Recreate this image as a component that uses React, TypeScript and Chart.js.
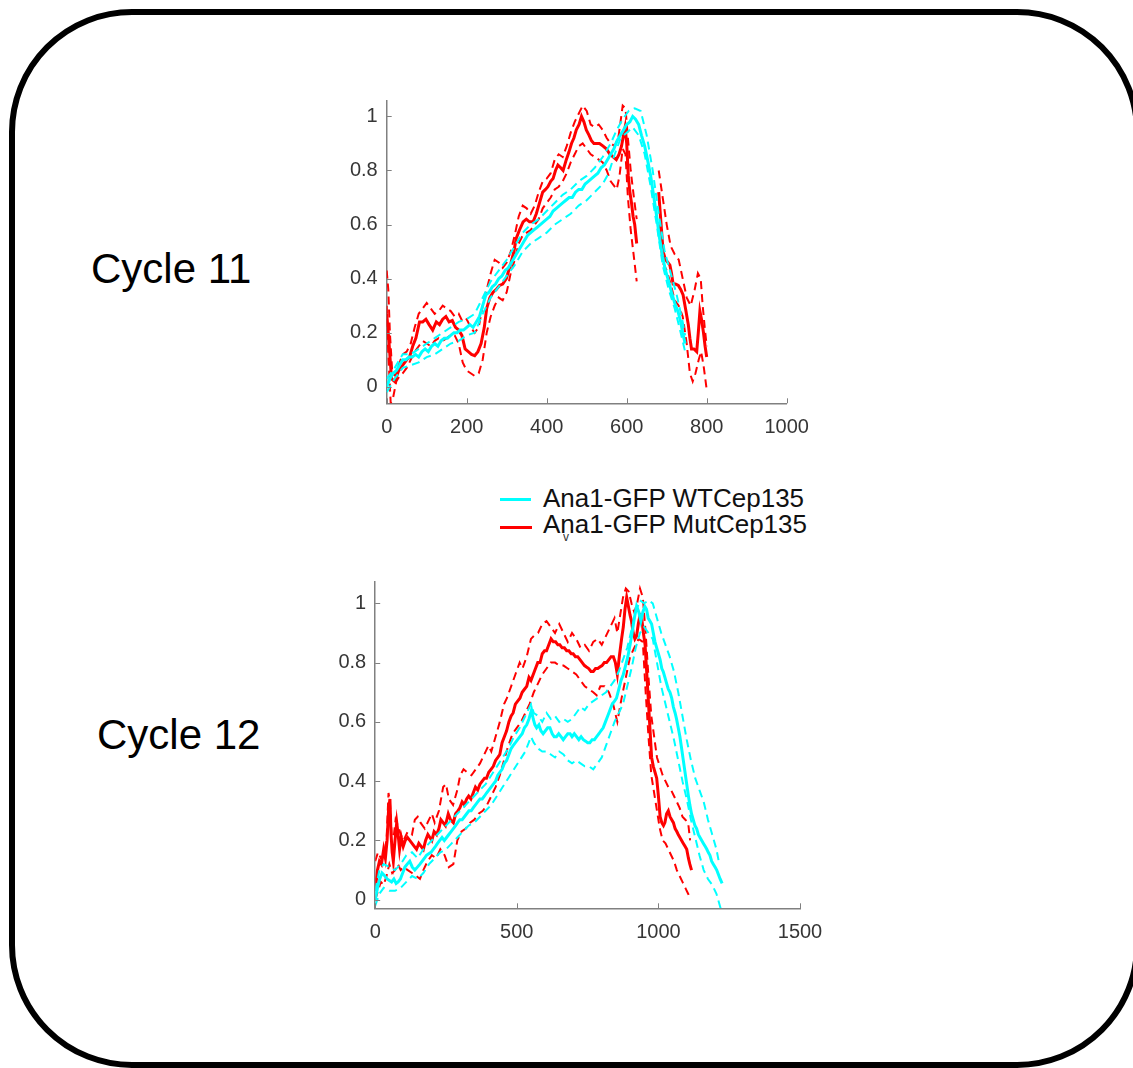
import React, { useEffect, useRef } from "react";
import { Chart, registerables } from "chart.js";

Chart.register(...registerables);

type Pt = [number, number | null];

// ---------- Cycle 11 ----------
const c11XTicks = [0, 200, 400, 600, 800, 1000];
const c11YTicks = [0, 0.2, 0.4, 0.6, 0.8, 1];
const c11XRange = [0, 1000];
const c11YRange = [-0.061, 1.057];

const c11WtMean: Pt[] = [
  [0, 0.0], [8, 0.03], [16, 0.05], [24, 0.06], [32, 0.08], [40, 0.1], [48, 0.1], [56, 0.11], [64, 0.11], [72, 0.12],
  [80, 0.11], [88, 0.13], [96, 0.14], [104, 0.13], [112, 0.15], [120, 0.16], [128, 0.15], [136, 0.17], [144, 0.18],
  [152, 0.18], [160, 0.19], [168, 0.2], [176, 0.2], [184, 0.21], [192, 0.21], [200, 0.22], [208, 0.23], [216, 0.22],
  [224, 0.24], [232, 0.26], [240, 0.3], [248, 0.34], [256, 0.35], [264, 0.37], [272, 0.38], [280, 0.4], [288, 0.41],
  [296, 0.43], [304, 0.44], [312, 0.46], [320, 0.48], [328, 0.5], [336, 0.52], [344, 0.54], [352, 0.56], [360, 0.57],
  [368, 0.58], [376, 0.59], [384, 0.6], [392, 0.61], [400, 0.62], [408, 0.63], [416, 0.65], [424, 0.66], [432, 0.67],
  [440, 0.68], [448, 0.69], [456, 0.7], [464, 0.7], [472, 0.72], [480, 0.73], [488, 0.73], [496, 0.75], [504, 0.76],
  [512, 0.77], [520, 0.78], [528, 0.79], [536, 0.81], [544, 0.82], [552, 0.84], [560, 0.86], [568, 0.88], [576, 0.91],
  [584, 0.93], [592, 0.95], [600, 0.97], [608, 0.98], [615, 1.0], [622, 0.99], [630, 0.97], [637, 0.93], [645, 0.89],
  [652, 0.84], [660, 0.78], [668, 0.7], [675, 0.63], [682, 0.55], [690, 0.48], [697, 0.43], [705, 0.39], [712, 0.35],
  [720, 0.31], [728, 0.28], [735, 0.24], [740, 0.2], [746, 0.16],
];
const c11WtUpper: Pt[] = [
  [0, 0.03], [20, 0.07], [40, 0.12], [60, 0.12], [80, 0.14], [100, 0.16], [120, 0.18], [140, 0.2], [160, 0.22],
  [180, 0.24], [200, 0.25], [220, 0.27], [240, 0.33], [260, 0.39], [280, 0.43], [300, 0.47], [320, 0.52], [340, 0.57],
  [360, 0.6], [380, 0.62], [400, 0.65], [420, 0.68], [440, 0.71], [460, 0.73], [480, 0.76], [500, 0.78], [520, 0.81],
  [540, 0.85], [560, 0.9], [575, 0.95], [590, 0.99], [605, 1.02], [620, 1.03], [635, 1.02], [650, 0.93], [665, 0.8],
  [680, 0.64], [695, 0.5], [710, 0.42], [725, 0.34], [740, 0.24], [746, 0.19],
];
const c11WtLower: Pt[] = [
  [0, -0.02], [20, 0.03], [40, 0.07], [60, 0.08], [80, 0.09], [100, 0.11], [120, 0.12], [140, 0.14], [160, 0.16],
  [180, 0.17], [200, 0.19], [220, 0.2], [240, 0.27], [260, 0.33], [280, 0.37], [300, 0.41], [320, 0.45], [340, 0.5],
  [360, 0.53], [380, 0.55], [400, 0.57], [420, 0.6], [440, 0.62], [460, 0.64], [480, 0.67], [500, 0.69], [520, 0.72],
  [540, 0.75], [555, 0.79], [570, 0.86], [585, 0.92], [600, 0.94], [615, 0.96], [630, 0.93], [645, 0.86], [660, 0.74],
  [675, 0.6], [690, 0.45], [705, 0.36], [720, 0.29], [735, 0.2], [746, 0.13],
];
const c11MutMean: Pt[] = [
  [0, 0.27], [5, 0.18], [12, 0.03], [20, 0.02], [30, 0.06], [40, 0.08], [50, 0.1], [57, 0.11], [65, 0.15], [73, 0.18],
  [82, 0.24], [90, 0.24], [98, 0.25], [106, 0.23], [115, 0.21], [124, 0.24], [132, 0.23], [140, 0.25], [148, 0.26],
  [156, 0.24], [164, 0.245], [172, 0.22], [180, 0.21], [188, 0.19], [196, 0.14], [204, 0.13], [212, 0.12], [220, 0.115],
  [228, 0.13], [236, 0.16], [244, 0.22], [250, 0.29], [258, 0.33], [266, 0.35], [274, 0.36], [282, 0.375], [290, 0.38],
  [299, 0.4], [305, 0.43], [311, 0.46], [318, 0.5], [324, 0.55], [332, 0.58], [341, 0.61], [349, 0.62], [357, 0.61],
  [366, 0.61], [374, 0.64], [382, 0.68], [390, 0.72], [397, 0.73], [403, 0.74], [410, 0.76], [416, 0.77], [422, 0.8],
  [428, 0.82], [435, 0.81], [441, 0.8], [449, 0.84], [456, 0.87], [462, 0.9], [468, 0.92], [474, 0.95], [481, 0.97],
  [487, 1.0], [493, 0.98], [499, 0.95], [506, 0.93], [512, 0.91], [518, 0.9], [524, 0.9], [532, 0.9], [541, 0.89],
  [549, 0.88], [558, 0.86], [566, 0.85], [574, 0.84], [581, 0.86], [587, 0.89], [592, 0.93], [596, 0.96], [600, 0.9],
  [604, 0.78], [608, 0.72], [612, 0.68], [616, 0.63], [620, 0.6], [625, 0.53], [650, null],
  [680, 0.72], [686, 0.6], [691, 0.5], [697, 0.47], [703, 0.46], [708, 0.45], [712, 0.42], [716, 0.38], [722, 0.38],
  [729, 0.375], [735, 0.36], [741, 0.34], [747, 0.29], [754, 0.23], [758, 0.18], [762, 0.14], [768, 0.14], [775, 0.13],
  [779, 0.2], [783, 0.28], [787, 0.25], [792, 0.2], [796, 0.15], [800, 0.11],
];
const c11MutUpper: Pt[] = [
  [0, 0.43], [4, 0.36], [8, 0.2], [14, 0.05], [22, 0.04], [30, 0.08], [40, 0.12], [50, 0.13], [60, 0.16], [70, 0.22],
  [80, 0.27], [90, 0.29], [100, 0.31], [110, 0.29], [120, 0.27], [130, 0.28], [140, 0.3], [150, 0.29], [160, 0.28],
  [170, 0.26], [180, 0.27], [190, 0.24], [200, 0.25], [210, 0.22], [220, 0.2], [230, 0.22], [240, 0.3], [250, 0.36],
  [260, 0.42], [270, 0.47], [280, 0.46], [290, 0.44], [300, 0.46], [310, 0.5], [320, 0.56], [330, 0.63], [340, 0.67],
  [350, 0.66], [360, 0.64], [370, 0.67], [380, 0.72], [390, 0.76], [400, 0.77], [410, 0.79], [420, 0.84], [430, 0.86],
  [440, 0.85], [450, 0.89], [460, 0.94], [470, 0.98], [480, 1.01], [490, 1.04], [500, 1.02], [510, 0.97], [520, 0.96],
  [530, 0.97], [540, 0.95], [550, 0.92], [560, 0.9], [570, 0.89], [580, 0.93], [590, 1.04], [597, 1.03], [603, 0.92],
  [610, 0.8], [618, 0.7], [625, 0.62], [650, null],
  [680, 0.8], [690, 0.7], [700, 0.6], [710, 0.52], [720, 0.49], [730, 0.47], [740, 0.4], [750, 0.33], [760, 0.3],
  [770, 0.36], [778, 0.42], [785, 0.4], [790, 0.3], [795, 0.22], [800, 0.15],
];
const c11MutLower: Pt[] = [
  [0, 0.3], [4, 0.12], [10, -0.06], [16, -0.04], [24, 0.02], [32, 0.04], [40, 0.05], [50, 0.07], [60, 0.1], [70, 0.13],
  [80, 0.15], [90, 0.17], [100, 0.16], [110, 0.15], [120, 0.17], [130, 0.18], [140, 0.17], [150, 0.18], [160, 0.19],
  [170, 0.19], [180, 0.16], [190, 0.09], [200, 0.06], [210, 0.05], [220, 0.04], [230, 0.05], [240, 0.1], [250, 0.2],
  [260, 0.26], [270, 0.3], [280, 0.33], [290, 0.32], [300, 0.35], [310, 0.42], [320, 0.47], [330, 0.53], [340, 0.56],
  [350, 0.57], [360, 0.58], [370, 0.6], [380, 0.62], [390, 0.66], [400, 0.68], [410, 0.7], [420, 0.73], [430, 0.74],
  [440, 0.76], [450, 0.79], [460, 0.83], [470, 0.86], [480, 0.89], [490, 0.9], [500, 0.88], [510, 0.86], [520, 0.85],
  [530, 0.84], [540, 0.83], [550, 0.8], [560, 0.76], [570, 0.74], [575, 0.73], [582, 0.78], [590, 0.88], [597, 0.86],
  [603, 0.7], [610, 0.58], [618, 0.48], [625, 0.39], [650, null],
  [680, 0.6], [690, 0.46], [700, 0.43], [710, 0.38], [720, 0.32], [730, 0.3], [740, 0.26], [750, 0.16], [758, 0.05],
  [765, 0.02], [772, 0.05], [780, 0.1], [786, 0.13], [792, 0.08], [800, -0.01],
];

// ---------- Cycle 12 ----------
const c12XTicks = [0, 500, 1000, 1500];
const c12YTicks = [0, 0.2, 0.4, 0.6, 0.8, 1];
const c12XRange = [0, 1500];
const c12YRange = [-0.029, 1.073];

const c12WtMean: Pt[] = [
  [0, 0.0], [8, 0.04], [16, 0.07], [24, 0.09], [34, 0.08], [42, 0.07], [50, 0.065], [58, 0.06], [66, 0.07], [74, 0.055],
  [81, 0.06], [89, 0.07], [97, 0.09], [105, 0.11], [113, 0.12], [122, 0.13], [131, 0.11], [140, 0.1], [149, 0.11],
  [158, 0.12], [166, 0.13], [174, 0.14], [181, 0.15], [189, 0.155], [197, 0.16], [205, 0.17], [213, 0.18], [220, 0.19],
  [228, 0.2], [236, 0.21], [244, 0.2], [252, 0.21], [260, 0.22], [268, 0.23], [276, 0.24], [284, 0.25], [291, 0.26],
  [299, 0.27], [307, 0.27], [315, 0.28], [323, 0.29], [331, 0.3], [339, 0.3], [346, 0.31], [354, 0.32], [362, 0.33],
  [370, 0.34], [378, 0.34], [386, 0.35], [393, 0.36], [401, 0.37], [409, 0.38], [417, 0.39], [425, 0.4], [433, 0.42],
  [440, 0.43], [448, 0.44], [456, 0.46], [464, 0.47], [472, 0.49], [480, 0.51], [487, 0.52], [495, 0.53], [503, 0.54],
  [511, 0.55], [519, 0.56], [527, 0.58], [535, 0.59], [543, 0.61], [552, 0.64], [558, 0.61], [564, 0.59], [570, 0.58],
  [578, 0.59], [585, 0.57], [593, 0.56], [601, 0.57], [609, 0.58], [617, 0.58], [625, 0.56], [632, 0.55], [640, 0.55],
  [648, 0.56], [656, 0.55], [664, 0.54], [672, 0.55], [680, 0.56], [688, 0.56], [695, 0.55], [703, 0.56], [711, 0.55],
  [719, 0.54], [727, 0.55], [735, 0.54], [743, 0.535], [750, 0.53], [758, 0.53], [766, 0.54], [774, 0.54], [782, 0.55],
  [790, 0.56], [797, 0.57], [805, 0.58], [813, 0.6], [821, 0.62], [829, 0.64], [837, 0.66], [845, 0.67], [852, 0.68],
  [860, 0.71], [868, 0.74], [876, 0.76], [884, 0.79], [892, 0.82], [900, 0.86], [907, 0.9], [915, 0.95], [923, 0.99],
  [931, 0.97], [938, 0.94], [945, 0.97], [952, 0.99], [958, 0.98], [964, 0.95], [970, 0.94], [976, 0.93], [982, 0.9],
  [988, 0.87], [994, 0.85], [1000, 0.83], [1006, 0.81], [1012, 0.78], [1017, 0.77], [1023, 0.75], [1029, 0.73],
  [1035, 0.71], [1041, 0.7], [1047, 0.68], [1053, 0.65], [1059, 0.63], [1064, 0.61], [1070, 0.58], [1076, 0.55],
  [1082, 0.51], [1088, 0.47], [1094, 0.43], [1100, 0.39], [1106, 0.35], [1111, 0.32], [1117, 0.29], [1123, 0.27],
  [1129, 0.25], [1135, 0.24], [1141, 0.22], [1147, 0.21], [1153, 0.2], [1159, 0.19], [1165, 0.18], [1171, 0.17],
  [1176, 0.16], [1182, 0.15], [1188, 0.13], [1194, 0.12], [1200, 0.11], [1206, 0.1], [1212, 0.085], [1218, 0.07],
  [1225, 0.055],
];
const c12WtUpper: Pt[] = [
  [0, 0.03], [15, 0.1], [30, 0.12], [50, 0.11], [70, 0.1], [90, 0.12], [110, 0.15], [130, 0.16], [150, 0.14], [170, 0.17],
  [190, 0.19], [210, 0.21], [230, 0.23], [250, 0.25], [270, 0.27], [290, 0.29], [310, 0.31], [330, 0.33], [350, 0.35],
  [370, 0.37], [390, 0.39], [410, 0.42], [430, 0.45], [450, 0.48], [470, 0.51], [490, 0.55], [510, 0.58], [530, 0.62],
  [550, 0.66], [560, 0.63], [575, 0.62], [590, 0.6], [605, 0.63], [620, 0.61], [635, 0.62], [650, 0.6], [665, 0.61],
  [680, 0.6], [695, 0.61], [710, 0.63], [725, 0.65], [740, 0.64], [755, 0.66], [770, 0.67], [785, 0.68], [800, 0.69],
  [815, 0.7], [830, 0.72], [845, 0.74], [860, 0.77], [875, 0.81], [890, 0.85], [905, 0.91], [920, 0.97], [935, 1.01],
  [950, 1.0], [965, 1.01], [980, 1.0], [995, 0.95], [1010, 0.9], [1025, 0.86], [1040, 0.82], [1055, 0.77], [1070, 0.7],
  [1085, 0.62], [1100, 0.54], [1115, 0.47], [1130, 0.41], [1145, 0.37], [1160, 0.33], [1175, 0.27], [1190, 0.22],
  [1205, 0.17], [1215, 0.12],
];
const c12WtLower: Pt[] = [
  [0, -0.02], [15, 0.02], [30, 0.04], [50, 0.03], [70, 0.03], [90, 0.04], [110, 0.06], [130, 0.08], [150, 0.07],
  [170, 0.09], [190, 0.12], [210, 0.14], [230, 0.16], [250, 0.17], [270, 0.19], [290, 0.21], [310, 0.23], [330, 0.25],
  [350, 0.26], [370, 0.28], [390, 0.3], [410, 0.32], [430, 0.35], [450, 0.38], [470, 0.41], [490, 0.44], [510, 0.47],
  [530, 0.5], [550, 0.55], [560, 0.53], [575, 0.51], [590, 0.5], [605, 0.5], [620, 0.49], [635, 0.48], [650, 0.5],
  [665, 0.49], [680, 0.47], [695, 0.46], [710, 0.47], [725, 0.46], [740, 0.45], [755, 0.45], [770, 0.44], [785, 0.46],
  [800, 0.48], [815, 0.52], [830, 0.56], [845, 0.6], [860, 0.63], [875, 0.66], [890, 0.72], [905, 0.78], [920, 0.85],
  [935, 0.9], [950, 0.92], [965, 0.9], [980, 0.88], [995, 0.8], [1010, 0.72], [1025, 0.66], [1040, 0.6], [1055, 0.54],
  [1070, 0.47], [1085, 0.4], [1100, 0.34], [1115, 0.27], [1130, 0.21], [1145, 0.15], [1160, 0.1], [1175, 0.07],
  [1190, 0.05], [1205, 0.02], [1220, -0.03],
];
const c12MutMean: Pt[] = [
  [0, 0.03], [8, 0.1], [15, 0.13], [22, 0.12], [30, 0.17], [36, 0.14], [42, 0.2], [47, 0.3], [52, 0.34], [56, 0.22],
  [60, 0.16], [64, 0.13], [70, 0.2], [76, 0.26], [81, 0.22], [86, 0.17], [92, 0.21], [99, 0.18], [106, 0.2], [114, 0.21],
  [122, 0.2], [130, 0.19], [138, 0.18], [146, 0.17], [154, 0.19], [162, 0.18], [170, 0.17], [178, 0.2], [186, 0.22],
  [193, 0.21], [200, 0.2], [208, 0.23], [217, 0.22], [225, 0.24], [232, 0.27], [240, 0.26], [248, 0.25], [258, 0.29],
  [266, 0.27], [276, 0.26], [284, 0.29], [292, 0.3], [299, 0.31], [307, 0.33], [315, 0.32], [323, 0.34], [330, 0.35],
  [338, 0.34], [346, 0.36], [354, 0.38], [362, 0.37], [370, 0.39], [378, 0.4], [386, 0.41], [393, 0.41], [401, 0.43],
  [409, 0.44], [417, 0.45], [425, 0.47], [433, 0.48], [440, 0.49], [448, 0.53], [456, 0.55], [464, 0.57], [472, 0.6],
  [480, 0.62], [487, 0.63], [495, 0.66], [503, 0.67], [511, 0.68], [519, 0.7], [527, 0.71], [535, 0.72], [543, 0.75],
  [550, 0.74], [558, 0.76], [566, 0.78], [574, 0.8], [582, 0.8], [590, 0.83], [598, 0.84], [605, 0.84], [613, 0.86],
  [621, 0.88], [629, 0.87], [637, 0.87], [645, 0.86], [652, 0.86], [660, 0.85], [668, 0.85], [676, 0.84], [684, 0.84],
  [692, 0.83], [699, 0.83], [707, 0.82], [715, 0.82], [723, 0.81], [731, 0.8], [739, 0.79], [746, 0.785], [754, 0.78],
  [762, 0.77], [770, 0.77], [778, 0.78], [786, 0.78], [793, 0.785], [801, 0.79], [809, 0.8], [817, 0.8], [825, 0.81],
  [833, 0.82], [841, 0.82], [848, 0.8], [855, 0.76], [862, 0.82], [870, 0.88], [876, 0.92], [882, 0.98], [888, 1.02],
  [894, 0.99], [900, 0.96], [905, 0.94], [911, 0.9], [917, 0.88], [923, 0.89], [929, 0.93], [935, 0.96], [941, 0.95],
  [947, 0.9], [953, 0.86], [958, 0.78], [964, 0.68], [970, 0.58], [976, 0.48], [982, 0.45], [988, 0.43], [994, 0.41],
  [1000, 0.35], [1006, 0.28], [1012, 0.26], [1018, 0.25], [1023, 0.26], [1029, 0.29], [1035, 0.3], [1041, 0.28],
  [1047, 0.27], [1053, 0.26], [1059, 0.24], [1065, 0.23], [1070, 0.22], [1076, 0.21], [1082, 0.2], [1088, 0.19],
  [1094, 0.18], [1100, 0.17], [1106, 0.14], [1111, 0.12], [1117, 0.1],
];
const c12MutUpper: Pt[] = [
  [0, 0.13], [10, 0.16], [20, 0.14], [30, 0.15], [40, 0.2], [47, 0.36], [52, 0.33], [58, 0.22], [65, 0.21], [72, 0.27],
  [80, 0.25], [90, 0.22], [100, 0.2], [115, 0.23], [130, 0.22], [140, 0.27], [150, 0.28], [160, 0.26], [175, 0.24],
  [190, 0.27], [200, 0.29], [210, 0.26], [225, 0.3], [240, 0.38], [250, 0.39], [260, 0.34], [275, 0.32], [290, 0.37],
  [300, 0.42], [312, 0.44], [325, 0.43], [340, 0.42], [355, 0.44], [370, 0.46], [385, 0.49], [400, 0.52], [410, 0.5],
  [425, 0.55], [440, 0.6], [455, 0.66], [465, 0.68], [480, 0.72], [495, 0.76], [510, 0.8], [520, 0.78], [535, 0.82],
  [550, 0.88], [560, 0.89], [575, 0.9], [590, 0.93], [605, 0.94], [620, 0.92], [635, 0.9], [650, 0.93], [665, 0.9],
  [680, 0.87], [695, 0.9], [710, 0.88], [725, 0.85], [740, 0.86], [755, 0.84], [770, 0.87], [785, 0.88], [800, 0.86],
  [815, 0.89], [830, 0.92], [845, 0.95], [855, 0.9], [865, 0.96], [875, 1.02], [885, 1.05], [895, 1.04], [905, 1.0],
  [915, 0.97], [925, 1.0], [935, 1.05], [945, 1.02], [955, 0.9], [965, 0.75], [975, 0.62], [985, 0.55], [995, 0.48],
  [1005, 0.45], [1015, 0.42], [1025, 0.4], [1035, 0.38], [1045, 0.37], [1055, 0.35], [1065, 0.33], [1075, 0.31],
  [1085, 0.28], [1095, 0.27], [1105, 0.26], [1112, 0.2],
];
const c12MutLower: Pt[] = [
  [0, 0.0], [10, 0.03], [20, 0.06], [30, 0.05], [40, 0.08], [50, 0.12], [60, 0.09], [70, 0.1], [80, 0.12], [90, 0.1],
  [100, 0.11], [115, 0.1], [130, 0.09], [145, 0.08], [158, 0.07], [170, 0.1], [185, 0.13], [200, 0.15], [215, 0.14],
  [230, 0.17], [245, 0.15], [260, 0.11], [276, 0.12], [290, 0.2], [305, 0.23], [320, 0.24], [335, 0.26], [350, 0.27],
  [365, 0.29], [380, 0.3], [395, 0.32], [410, 0.35], [425, 0.38], [440, 0.42], [455, 0.47], [470, 0.52], [485, 0.56],
  [500, 0.58], [515, 0.6], [530, 0.63], [545, 0.66], [560, 0.7], [575, 0.73], [590, 0.76], [605, 0.78], [620, 0.8],
  [635, 0.8], [650, 0.79], [665, 0.79], [680, 0.78], [695, 0.77], [710, 0.76], [725, 0.74], [740, 0.72], [755, 0.71],
  [770, 0.7], [782, 0.69], [795, 0.72], [810, 0.72], [825, 0.7], [840, 0.66], [855, 0.6], [870, 0.68], [885, 0.75],
  [900, 0.82], [915, 0.85], [930, 0.88], [945, 0.87], [955, 0.7], [965, 0.55], [975, 0.42], [985, 0.36], [995, 0.3],
  [1005, 0.24], [1015, 0.2], [1025, 0.19], [1035, 0.17], [1045, 0.15], [1055, 0.13], [1065, 0.1], [1075, 0.08],
  [1085, 0.06], [1095, 0.04], [1105, 0.02], [1110, 0.01],
];

const legendLabels = ["Ana1-GFP WTCep135", "Ana1-GFP MutCep135"];
const panelLabels = ["Cycle 11", "Cycle 12"];

const WT = "#00ffff";
const MUT = "#ff0000";
const AXIS = "#808080";
const TICKTXT = "#363636";
const FONT = "'Liberation Sans', Arial, Helvetica, sans-serif";

const inwardTicks = {
  id: "inwardTicks",
  afterDatasetsDraw(chart: any) {
    const { ctx, chartArea, scales } = chart;
    ctx.save();
    ctx.strokeStyle = AXIS;
    ctx.lineWidth = 1;
    const xs = scales.x;
    const ys = scales.y;
    xs.ticks.forEach((t: any) => {
      const px = Math.round(xs.getPixelForValue(t.value)) + 0.5;
      ctx.beginPath();
      ctx.moveTo(px, chartArea.bottom);
      ctx.lineTo(px, chartArea.bottom - 5);
      ctx.stroke();
    });
    ys.ticks.forEach((t: any) => {
      const py = Math.round(ys.getPixelForValue(t.value)) + 0.5;
      ctx.beginPath();
      ctx.moveTo(chartArea.left, py);
      ctx.lineTo(chartArea.left + 5, py);
      ctx.stroke();
    });
    ctx.restore();
  },
};

type PanelProps = {
  left: number; top: number; width: number; height: number;
  padTop: number; padRight: number; yWidth: number; xHeight: number;
  xTicks: number[]; yTicks: number[]; xRange: number[]; yRange: number[];
  wtMean: Pt[]; wtUpper: Pt[]; wtLower: Pt[];
  mutMean: Pt[]; mutUpper: Pt[]; mutLower: Pt[];
};

const toXY = (arr: Pt[]) => arr.map(([x, y]) => ({ x, y }));

function Panel(p: PanelProps) {
  const ref = useRef<HTMLCanvasElement | null>(null);
  useEffect(() => {
    if (!ref.current) return;
    const solid = (data: Pt[], color: string) => ({
      data: toXY(data), borderColor: color, backgroundColor: color, borderWidth: 3,
      pointRadius: 0, tension: 0, spanGaps: false, fill: false,
    });
    const dashed = (data: Pt[], color: string) => ({
      data: toXY(data), borderColor: color, backgroundColor: color, borderWidth: 2,
      borderDash: [8, 5], pointRadius: 0, tension: 0, spanGaps: false, fill: false,
    });
    const tickFont = { family: FONT, size: 20 };
    const chart = new Chart(ref.current, {
      type: "line",
      data: {
        datasets: [
          solid(p.wtMean, WT), dashed(p.wtUpper, WT), dashed(p.wtLower, WT),
          solid(p.mutMean, MUT), dashed(p.mutUpper, MUT), dashed(p.mutLower, MUT),
        ] as any,
      },
      options: {
        responsive: false,
        animation: false,
        devicePixelRatio: 1,
        layout: { padding: { left: 0, top: p.padTop, right: p.padRight, bottom: 0 } },
        plugins: { legend: { display: false }, tooltip: { enabled: false } },
        scales: {
          x: {
            type: "linear",
            min: p.xRange[0], max: p.xRange[1],
            afterBuildTicks: (s: any) => { s.ticks = p.xTicks.map((v) => ({ value: v })); },
            afterFit: (s: any) => { s.height = p.xHeight; },
            grid: { display: true, drawOnChartArea: false, drawTicks: false },
            border: { display: true, color: AXIS, width: 1.5 },
            ticks: {
              font: tickFont, color: TICKTXT, padding: 12, autoSkip: false, maxRotation: 0,
              callback: (v: any) => String(v),
            },
          },
          y: {
            type: "linear",
            min: p.yRange[0], max: p.yRange[1],
            afterBuildTicks: (s: any) => { s.ticks = p.yTicks.map((v) => ({ value: v })); },
            afterFit: (s: any) => { s.width = p.yWidth; },
            grid: { display: true, drawOnChartArea: false, drawTicks: false },
            border: { display: true, color: AXIS, width: 1.5 },
            ticks: {
              font: tickFont, color: TICKTXT, padding: 9, autoSkip: false,
              callback: (v: any) => String(Number(v)),
            },
          },
        },
      } as any,
      plugins: [inwardTicks],
    });
    return () => chart.destroy();
  }, []);
  return (
    <canvas
      ref={ref}
      width={p.width}
      height={p.height}
      style={{ position: "absolute", left: p.left, top: p.top, width: p.width, height: p.height }}
    />
  );
}

export default function App() {
  const textBase: React.CSSProperties = { position: "absolute", fontFamily: FONT, color: "#000", whiteSpace: "nowrap" };
  return (
    <div style={{ position: "absolute", left: 0, top: 0, width: 1133, height: 1068, overflow: "hidden", background: "#fff" }}>
      <div
        style={{
          position: "absolute", left: 8.7, top: 8.7, width: 1131.3, height: 1059.3, boxSizing: "border-box",
          border: "6px solid #000", borderRadius: 123,
        }}
      />
      <div style={{ ...textBase, left: 91, top: 247.5, fontSize: 42, lineHeight: "42px" }}>{panelLabels[0]}</div>
      <div style={{ ...textBase, left: 97, top: 713.5, fontSize: 42, lineHeight: "42px" }}>{panelLabels[1]}</div>

      <Panel
        left={300} top={80} width={540} height={370}
        padTop={17} padRight={53.3} yWidth={86.7} xHeight={46.7}
        xTicks={c11XTicks} yTicks={c11YTicks} xRange={c11XRange} yRange={c11YRange}
        wtMean={c11WtMean} wtUpper={c11WtUpper} wtLower={c11WtLower}
        mutMean={c11MutMean} mutUpper={c11MutUpper} mutLower={c11MutLower}
      />
      <Panel
        left={290} top={560} width={560} height={400}
        padTop={21.7} padRight={50} yWidth={85.2} xHeight={51.7}
        xTicks={c12XTicks} yTicks={c12YTicks} xRange={c12XRange} yRange={c12YRange}
        wtMean={c12WtMean} wtUpper={c12WtUpper} wtLower={c12WtLower}
        mutMean={c12MutMean} mutUpper={c12MutUpper} mutLower={c12MutLower}
      />

      <div style={{ position: "absolute", left: 500, top: 497.5, width: 31, height: 3, background: WT }} />
      <div style={{ position: "absolute", left: 500, top: 525.5, width: 32, height: 3, background: MUT }} />
      <div style={{ ...textBase, left: 543, top: 484.5, fontSize: 26, lineHeight: "26px", color: "#111" }}>{legendLabels[0]}</div>
      <div style={{ ...textBase, left: 543, top: 510.5, fontSize: 26, lineHeight: "26px", color: "#111" }}>{legendLabels[1]}</div>
      <div style={{ position: "absolute", left: 563, top: 534, width: 12, height: 8, overflow: "hidden" }}>
        <div style={{ ...textBase, left: 0, top: -3, fontSize: 12, lineHeight: "12px", color: "#333" }}>v</div>
      </div>
    </div>
  );
}
